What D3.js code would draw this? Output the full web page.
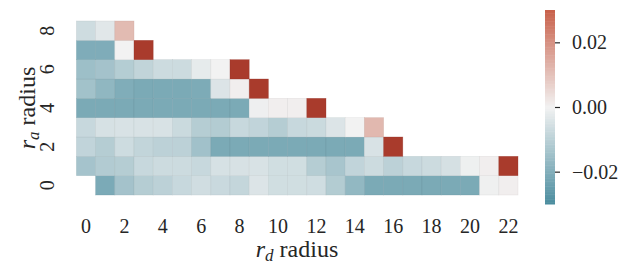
<!DOCTYPE html>
<html>
<head>
<meta charset="utf-8">
<script src="https://cdn.jsdelivr.net/npm/d3@7"></script>
<style>
  body { margin: 0; background: #fff; }
  text { font-family: 'Liberation Serif', 'DejaVu Serif', serif; fill: #262626; }
</style>
</head>
<body>
<div id="graf"></div>
<script>
// datos: filas por r_a (0..8), columnas por r_d (0..22); null = sin celda
radD = d3.range(0, 23)
radA = d3.range(0, 9)
ticksD = [0, 2, 4, 6, 8, 10, 12, 14, 16, 18, 20, 22]
ticksA = [0, 2, 4, 6, 8]
ticksBar = [-0.02, 0.00, 0.02]

fila0 = [null, -0.0212, -0.014, -0.0109, -0.0097, -0.0076, -0.0061, -0.0073, -0.0083, -0.004, -0.006, -0.006, -0.0062, -0.0113, -0.0172, -0.0213, -0.0213, -0.0213, -0.0213, -0.0213, -0.0213, -0.0006, 0.0008]
fila1 = [-0.0137, -0.0115, -0.0109, -0.0076, -0.0068, -0.0068, -0.0076, -0.005, -0.0049, -0.0046, -0.006, -0.006, -0.0109, -0.0132, -0.0087, -0.0068, -0.0097, -0.0076, -0.0068, -0.0052, -0.0007, 0.0008, 0.06]
fila2 = [-0.0087, -0.0109, -0.0066, -0.0085, -0.0097, -0.0097, -0.0144, -0.0213, -0.0213, -0.0213, -0.0213, -0.0213, -0.0213, -0.0213, -0.0213, -0.0046, 0.06]
fila3 = [-0.0076, -0.005, -0.0047, -0.0047, -0.0047, -0.0071, -0.0109, -0.0113, -0.0076, -0.0087, -0.0109, -0.0076, -0.0071, -0.004, 0.0, 0.012]
fila4 = [-0.0213, -0.0213, -0.0213, -0.0213, -0.0213, -0.0213, -0.0213, -0.0213, -0.0213, -0.0008, 0.0008, 0.0008, 0.06]
fila5 = [-0.0142, -0.0175, -0.0204, -0.0213, -0.0213, -0.0213, -0.0209, -0.004, 0.0008, 0.06]
fila6 = [-0.0151, -0.014, -0.011, -0.0088, -0.0068, -0.0068, -0.0021, 0.0, 0.06]
fila7 = [-0.0205, -0.0205, 0.0, 0.06]
fila8 = [-0.0065, -0.0031, 0.0114]

filas = [fila0, fila1, fila2, fila3, fila4, fila5, fila6, fila7, fila8]

celdas = []
filas.forEach((f, a) => {
  f.forEach((v, d) => {
    if (v !== null) celdas.push({ ra: radA[a], rd: radD[d], valor: v })
  })
})

vmin = -0.03
vmax = 0.03

// I. Configuración
ancho_total = 637
alto_total = 264

svg = d3.select('#graf').append('svg')
  .attr('width', ancho_total)
  .attr('height', alto_total)

x = d3.scaleBand().domain(radD).range([76.4, 518])
y = d3.scaleBand().domain(radA.slice().reverse()).range([21, 195])

color = d3.scaleLinear()
  .domain([vmin, 0, vmax])
  .range(['#4a8c9e', '#f2f2f2', '#c8604a'])
  .clamp(true)
colorOver = '#a93b2c'

function relleno(v) {
  return v > vmax ? colorOver : color(v)
}

// celdas
svg.append('g')
  .selectAll('rect')
  .data(celdas)
  .enter()
  .append('rect')
    .attr('x', d => x(d.rd))
    .attr('y', d => y(d.ra))
    .attr('width', x.bandwidth())
    .attr('height', y.bandwidth())
    .attr('fill', d => relleno(d.valor))
    .attr('stroke', d => d3.color(relleno(d.valor)).darker(0.35))
    .attr('stroke-opacity', 0.5)
    .attr('stroke-width', 0.6)

// eje x
xAxis = d3.axisBottom(x).tickValues(ticksD).tickSize(0).tickPadding(24)
gx = svg.append('g')
  .attr('transform', 'translate(0,195)')
  .call(xAxis)
gx.select('.domain').remove()
gx.selectAll('text')
  .attr('font-size', '20px')
  .attr('font-family', 'Liberation Serif')
  .attr('fill', '#262626')

// eje y (etiquetas rotadas)
svg.append('g')
  .selectAll('text')
  .data(ticksA)
  .enter()
  .append('text')
    .attr('x', 54)
    .attr('y', d => y(d) + y.bandwidth() / 2)
    .attr('transform', d => `rotate(-90, 54, ${y(d) + y.bandwidth() / 2})`)
    .attr('text-anchor', 'middle')
    .attr('font-size', '20px')
    .text(d => d)

// títulos de ejes
tx = svg.append('text')
  .attr('x', 297)
  .attr('y', 257)
  .attr('text-anchor', 'middle')
  .attr('font-size', '24px')
tx.append('tspan').attr('font-style', 'italic').text('r')
tx.append('tspan').attr('font-style', 'italic').attr('font-size', '17px').attr('dy', 4).text('d')
tx.append('tspan').attr('dy', -4).text(' radius')

cy = (21 + 195) / 2
ty = svg.append('text')
  .attr('x', 35)
  .attr('y', cy)
  .attr('transform', `rotate(-90, 35, ${cy})`)
  .attr('text-anchor', 'middle')
  .attr('font-size', '24px')
ty.append('tspan').attr('font-style', 'italic').text('r')
ty.append('tspan').attr('font-style', 'italic').attr('font-size', '17px').attr('dy', 4).text('a')
ty.append('tspan').attr('dy', -4).text(' radius')

// barra de color
yBar = d3.scaleLinear().domain([vmin, vmax]).range([204, 10])
pasos = d3.range(0, 120)
dv = (vmax - vmin) / pasos.length
barra = svg.append('g')
barra.selectAll('rect')
  .data(pasos)
  .enter()
  .append('rect')
    .attr('x', 545)
    .attr('width', 10)
    .attr('y', i => yBar(vmin + (i + 1) * dv))
    .attr('height', yBar(vmin) - yBar(vmin + dv) + 0.5)
    .attr('fill', i => color(vmin + (i + 0.5) * dv))

barAxis = d3.axisRight(yBar).tickValues(ticksBar).tickFormat(d3.format('.2f')).tickSize(5).tickPadding(12)
gb = svg.append('g')
  .attr('transform', 'translate(555,0)')
  .call(barAxis)
gb.select('.domain').remove()
gb.selectAll('line').attr('stroke', '#262626').attr('stroke-width', 1.2)
gb.selectAll('text')
  .attr('font-size', '20px')
  .attr('font-family', 'Liberation Serif')
  .attr('fill', '#262626')
</script>
</body>
</html>
